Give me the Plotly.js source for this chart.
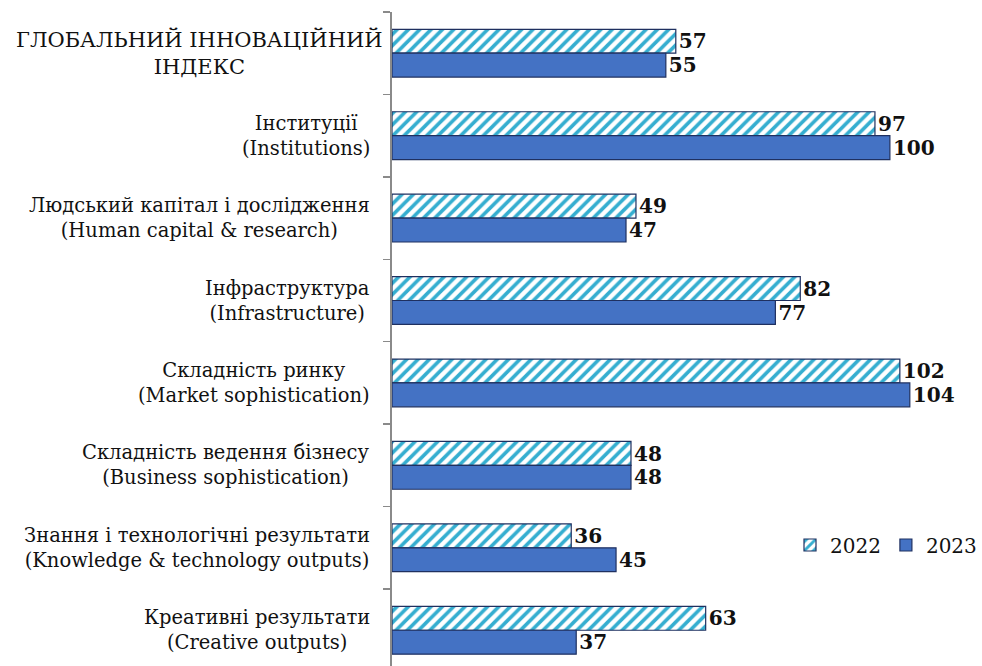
<!DOCTYPE html>
<html>
<head>
<meta charset="utf-8">
<script src="https://cdn.plot.ly/plotly-3.0.1.min.js"></script>
<style>html,body{margin:0;padding:0;background:#fff;}#chart{width:982px;height:666px;}</style>
</head>
<body>
<div id="chart"></div>
<script>
var categories = [
  "ГЛОБАЛЬНИЙ ІННОВАЦІЙНИЙ<br>ІНДЕКС",
  "Інституції<br>(Institutions)",
  "Людський капітал і дослідження<br>(Human capital & research)",
  "Інфраструктура<br>(Infrastructure)",
  "Складність ринку<br>(Market sophistication)",
  "Складність ведення бізнесу<br>(Business sophistication)",
  "Знання і технологічні результати<br>(Knowledge & technology outputs)",
  "Креативні результати<br>(Creative outputs)"
];
var values2022 = [57, 97, 49, 82, 102, 48, 36, 63];
var values2023 = [55, 100, 47, 77, 104, 48, 45, 37];
var seriesNames = ["2022", "2023"];

var serif = "DejaVu Serif";

var trace2022 = {
  type: "bar", orientation: "h", name: seriesNames[0],
  y: categories, x: values2022,
  marker: {
    color: "#ffffff",
    pattern: {shape: "/", fgcolor: "#35aed0", bgcolor: "#ffffff", size: 8, solidity: 0.45},
    line: {color: "#1f3060", width: 1.2}
  },
  texttemplate: "<b>%{x}</b>", textposition: "outside",
  textfont: {family: serif, size: 21, color: "#111"},
  cliponaxis: false
};
var trace2023 = {
  type: "bar", orientation: "h", name: seriesNames[1],
  y: categories, x: values2023,
  marker: {color: "#4472c4", line: {color: "#1f3060", width: 1.2}},
  texttemplate: "<b>%{x}</b>", textposition: "outside",
  textfont: {family: serif, size: 21, color: "#111"},
  cliponaxis: false
};

var annotations = categories.map(function (c, i) {
  return {
    x: 0, xref: "paper", xanchor: "right",
    y: c, yref: "y", yanchor: "middle",
    xshift: i === 0 ? -7 : -20,
    text: c, showarrow: false, align: "center",
    font: {family: serif, size: i === 0 ? 21 : 19.5, color: "#111"}
  };
});

var layout = {
  width: 982, height: 666,
  margin: {l: 392, r: 0, t: 12, b: 0, pad: 0},
  paper_bgcolor: "#fff", plot_bgcolor: "#fff",
  barmode: "group", bargap: 0.42, bargroupgap: 0,
  showlegend: true,
  legend: {
    orientation: "h", x: 1.0, xanchor: "right", y: 0.185, yanchor: "middle",
    font: {family: serif, size: 20, color: "#111"},
    itemwidth: 30, traceorder: "normal", bgcolor: "rgba(0,0,0,0)"
  },
  xaxis: {range: [0, 118.5], visible: false, fixedrange: true},
  yaxis: {
    type: "category", categoryarray: categories,
    range: [7.434, -0.5],
    showticklabels: false, showgrid: false, zeroline: false,
    showline: true, linecolor: "#8a8a8a", linewidth: 2,
    ticks: "outside", ticklen: 7, tickcolor: "#8a8a8a", tickwidth: 1.5,
    tickson: "boundaries"
  },
  annotations: annotations
};

Plotly.newPlot("chart", [trace2022, trace2023], layout, {displayModeBar: false, staticPlot: true});
</script>
</body>
</html>
